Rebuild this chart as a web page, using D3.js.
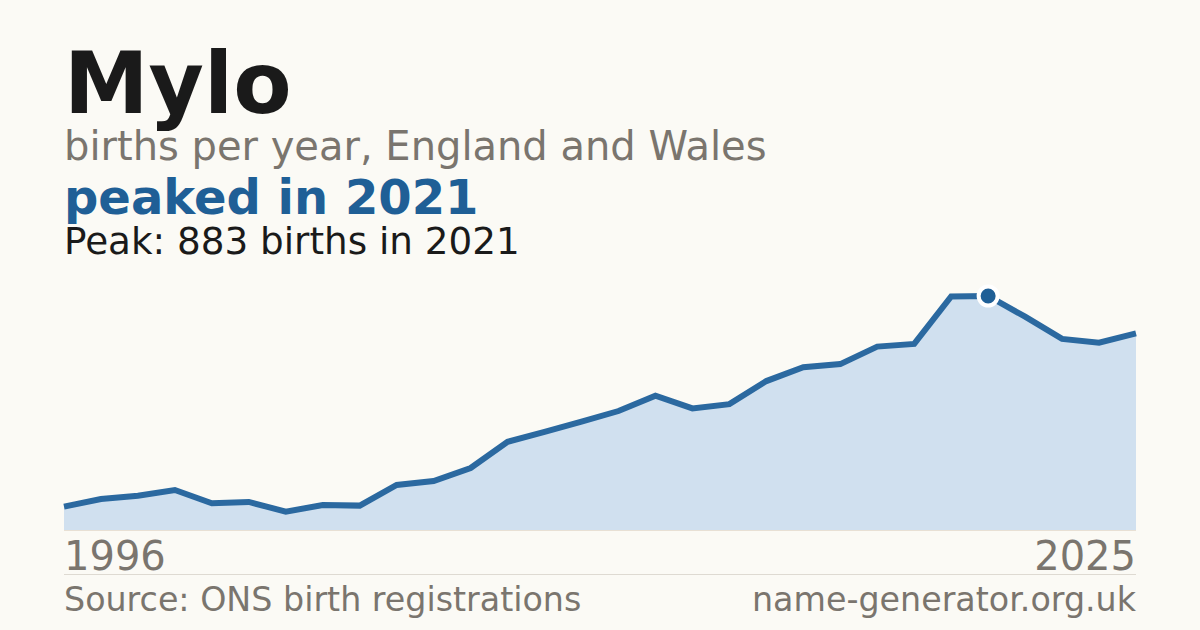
<!DOCTYPE html>
<html>
<head>
<meta charset="utf-8">
<script src="https://cdn.jsdelivr.net/npm/d3@7"></script>
<style>
  html, body { margin: 0; padding: 0; background: #fbfaf5; }
  svg { display: block; font-family: 'DejaVu Sans', sans-serif; }
</style>
</head>
<body>
<div id="chart"></div>
<script>
// births per year for the name
var years = d3.range(1996, 2026)
var births = [88, 117, 129, 151, 101, 106, 69, 94, 92, 170,
  185, 234, 333, 370, 409, 449, 507, 459, 475, 562,
  614, 626, 692, 702, 881, 883, 805, 721, 707, 742]
var peakYear = 2021
var peakValue = 883

var width = 1200
var height = 630
var left = 64
var right = 1136
var bottom = 530

var svg = d3.select('#chart')
  .append('svg')
  .attr('width', width)
  .attr('height', height)

svg.append('rect')
  .attr('width', width)
  .attr('height', height)
  .attr('fill', '#fbfaf5')

var data = years.map((y, i) => ({ year: y, value: births[i] }))

var x = d3.scaleLinear()
  .domain(d3.extent(years))
  .range([left, right])
var y = d3.scaleLinear()
  .domain([0, d3.max(births) * 1.1])
  .range([bottom, 272.6])

// titles
svg.append('text')
  .attr('x', left).attr('y', 113)
  .attr('font-size', 85).attr('font-weight', 'bold')
  .attr('fill', '#1a1a1a')
  .text('Mylo')
svg.append('text')
  .attr('x', left).attr('y', 160)
  .attr('font-size', 40)
  .attr('fill', '#7a756e')
  .text('births per year, England and Wales')
svg.append('text')
  .attr('x', left).attr('y', 214)
  .attr('font-size', 48).attr('font-weight', 'bold')
  .attr('fill', '#1f5f96')
  .text('peaked in ' + peakYear)
svg.append('text')
  .attr('x', left).attr('y', 254)
  .attr('font-size', 37.3)
  .attr('fill', '#1a1a1a')
  .text('Peak: ' + peakValue + ' births in ' + peakYear)

// area + line
var area = d3.area()
  .x(d => x(d.year))
  .y0(bottom)
  .y1(d => y(d.value))
var line = d3.line()
  .x(d => x(d.year))
  .y(d => y(d.value))

svg.append('path')
  .datum(data)
  .attr('d', area)
  .attr('fill', '#d0e0ef')

svg.append('line')
  .attr('x1', left).attr('x2', right)
  .attr('y1', bottom + 0.5).attr('y2', bottom + 0.5)
  .attr('stroke', '#e8e0d4')
  .attr('stroke-width', 1)

svg.append('path')
  .datum(data)
  .attr('d', line)
  .attr('fill', 'none')
  .attr('stroke', '#2b69a0')
  .attr('stroke-width', 6)
  .attr('stroke-linejoin', 'miter')

// peak marker
svg.append('circle')
  .attr('cx', x(peakYear))
  .attr('cy', y(peakValue))
  .attr('r', 9.5)
  .attr('fill', '#1f5f96')
  .attr('stroke', '#ffffff')
  .attr('stroke-width', 4)

// year labels
svg.append('text')
  .attr('x', left).attr('y', 570)
  .attr('font-size', 40)
  .attr('fill', '#7a756e')
  .text(years[0])
svg.append('text')
  .attr('x', right).attr('y', 570)
  .attr('font-size', 40)
  .attr('text-anchor', 'end')
  .attr('fill', '#7a756e')
  .text(years[years.length - 1])

svg.append('line')
  .attr('x1', left).attr('x2', right)
  .attr('y1', 574.5).attr('y2', 574.5)
  .attr('stroke', '#dedad2')
  .attr('stroke-width', 1)

// footer
svg.append('text')
  .attr('x', left).attr('y', 611)
  .attr('font-size', 33.3)
  .attr('fill', '#7a756e')
  .text('Source: ONS birth registrations')
svg.append('text')
  .attr('x', right).attr('y', 611)
  .attr('font-size', 33.3)
  .attr('text-anchor', 'end')
  .attr('fill', '#7a756e')
  .text('name-generator.org.uk')
</script>
</body>
</html>
